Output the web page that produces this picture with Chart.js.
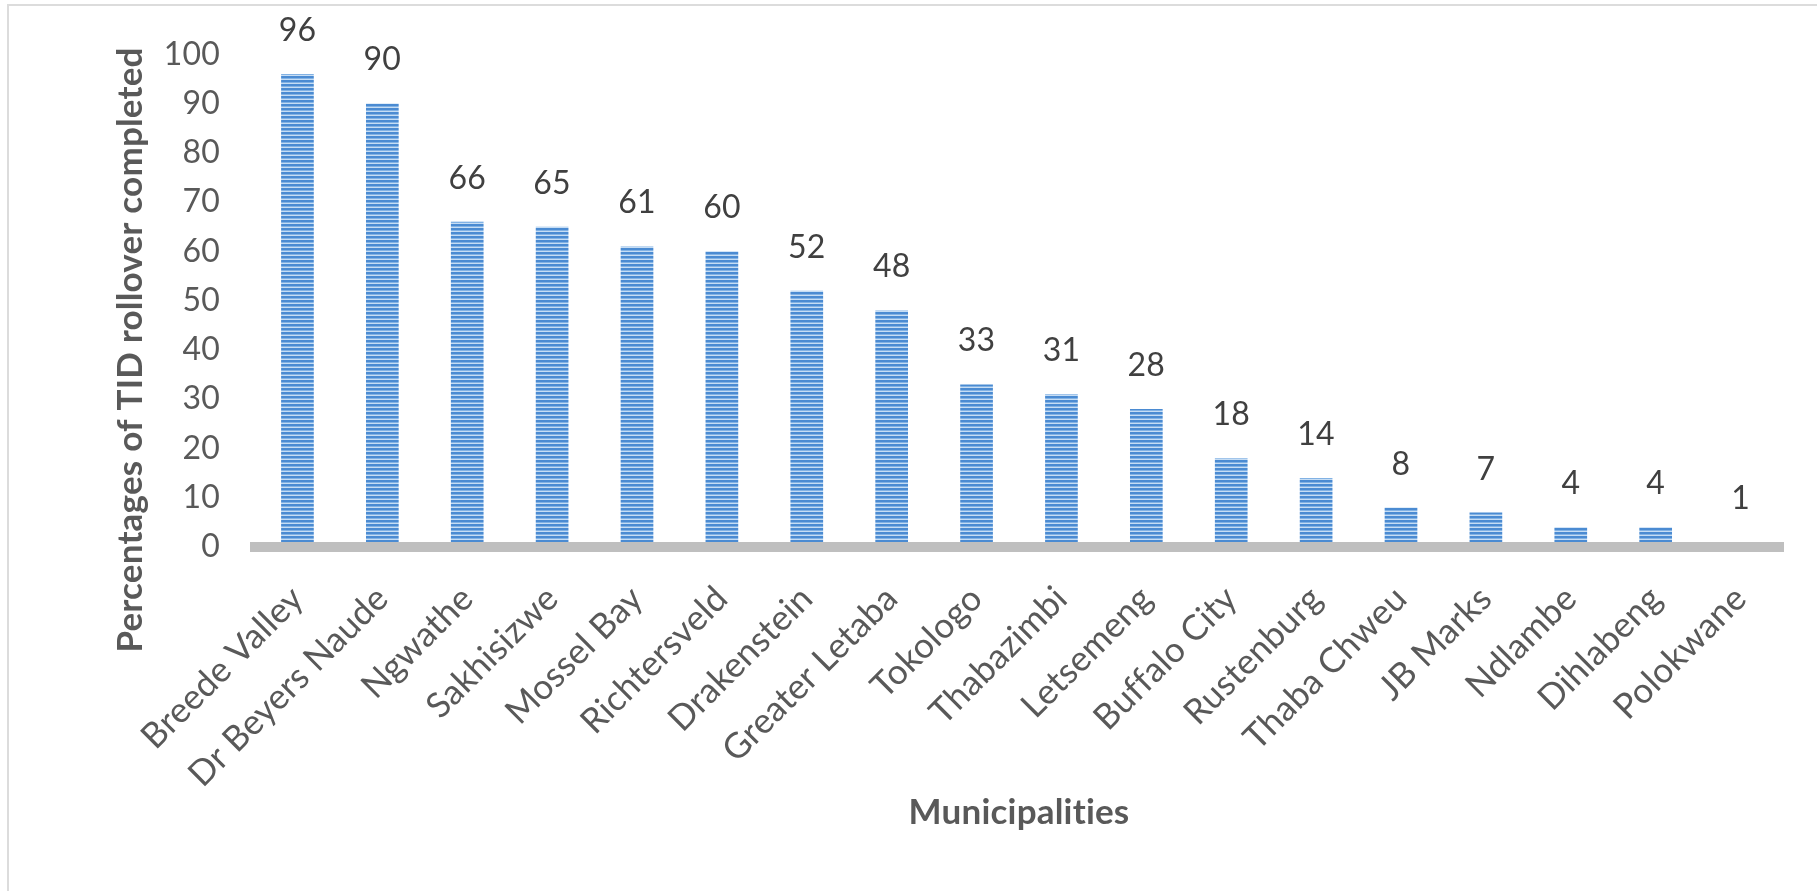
<!DOCTYPE html>
<html>
<head>
<meta charset="utf-8">
<script src="https://cdn.jsdelivr.net/npm/chart.js@4/dist/chart.umd.min.js"></script>
<style>
  body { margin: 0; background: #fff; }
  #wrap { position: relative; width: 1817px; height: 891px; overflow: hidden; }
  #frame { position: absolute; left: 7px; top: 4px; width: 2000px; height: 2000px; border: 2px solid #dcdcdc; }
  #chart { position: absolute; left: 0; top: 0; }
</style>
</head>
<body>
<div id="wrap">
  <div id="frame"></div>
  <canvas id="chart" width="1817" height="891"></canvas>
</div>
<script>
const municipalities = ['Breede Valley', 'Dr Beyers Naude', 'Ngwathe', 'Sakhisizwe', 'Mossel Bay',
  'Richtersveld', 'Drakenstein', 'Greater Letaba', 'Tokologo', 'Thabazimbi', 'Letsemeng',
  'Buffalo City', 'Rustenburg', 'Thaba Chweu', 'JB Marks', 'Ndlambe', 'Dihlabeng', 'Polokwane'];
const rolloverPct = [96, 90, 66, 65, 61, 60, 52, 48, 33, 31, 28, 18, 14, 8, 7, 4, 4, 1];
const yTitle = 'Percentages of TID rollover completed';
const xTitle = 'Municipalities';

const FONT = 'Lato, "Open Sans", sans-serif';
const TEXT = '#595959';

// striped fill like the original bars
function stripes() {
    const c = document.createElement('canvas');
    c.width = 4;
    c.height = 4;
    const g = c.getContext('2d');
    g.fillStyle = '#4b8bd2';
    g.fillRect(0, 0, 4, 2);
    g.fillStyle = '#82b2e4';
    g.fillRect(0, 2, 4, 1);
    g.fillStyle = '#c6ddf4';
    g.fillRect(0, 3, 4, 1);
    return g.createPattern(c, 'repeat');
}

// no "ti" ligatures, the original font has none
const plainText = {
    id: 'plainText',
    beforeDraw(chart) {
        chart.ctx.textRendering = 'optimizeSpeed';
        chart.ctx.letterSpacing = '0.2px';
    }
};

const valueLabels = {
    id: 'valueLabels',
    afterDatasetsDraw(chart) {
        const ctx = chart.ctx;
        const meta = chart.getDatasetMeta(0);
        ctx.save();
        ctx.font = '32px ' + FONT;
        ctx.fillStyle = '#404040';
        ctx.textAlign = 'center';
        ctx.textBaseline = 'alphabetic';
        meta.data.forEach((bar, i) => {
            ctx.fillText(String(rolloverPct[i]), bar.x, bar.y - 33);
        });
        ctx.restore();
    }
};

const sideTitle = {
    id: 'sideTitle',
    afterDraw(chart) {
        const ctx = chart.ctx;
        ctx.save();
        ctx.translate(131, 350);
        ctx.rotate(-Math.PI / 2);
        ctx.font = 'bold 35px ' + FONT;
        ctx.fillStyle = TEXT;
        ctx.textAlign = 'center';
        ctx.textBaseline = 'middle';
        ctx.fillText(yTitle, 0, 0);
        ctx.restore();
    }
};

const ctx = document.getElementById('chart').getContext('2d');
new Chart(ctx, {
    type: 'bar',
    data: {
        labels: municipalities,
        datasets: [{
            data: rolloverPct,
            backgroundColor: stripes(),
            borderWidth: 0,
            barPercentage: 0.385,
            categoryPercentage: 1
        }]
    },
    options: {
        responsive: false,
        animation: false,
        events: [],
        layout: { padding: { left: 0, right: 34, top: 45, bottom: 53 } },
        plugins: {
            legend: { display: false },
            tooltip: { enabled: false }
        },
        scales: {
            x: {
                grid: { display: false, drawTicks: false },
                border: { display: true, color: '#bfbfbf', width: 10, z: 1 },
                ticks: {
                    color: TEXT,
                    font: { family: FONT, size: 35 },
                    minRotation: 45,
                    maxRotation: 45,
                    autoSkip: false,
                    padding: 31
                },
                title: {
                    display: true,
                    text: xTitle,
                    color: TEXT,
                    font: { family: FONT, size: 35, weight: 'bold' }
                },
                afterFit(scale) { scale.height = 291; }
            },
            y: {
                min: 0,
                max: 100,
                grid: { display: false, drawTicks: false },
                border: { display: false },
                ticks: {
                    stepSize: 10,
                    color: TEXT,
                    font: { family: FONT, size: 32 },
                    padding: 35
                },
                afterFit(scale) { scale.width = 255; }
            }
        }
    },
    plugins: [plainText, valueLabels, sideTitle]
});
</script>
</body>
</html>
